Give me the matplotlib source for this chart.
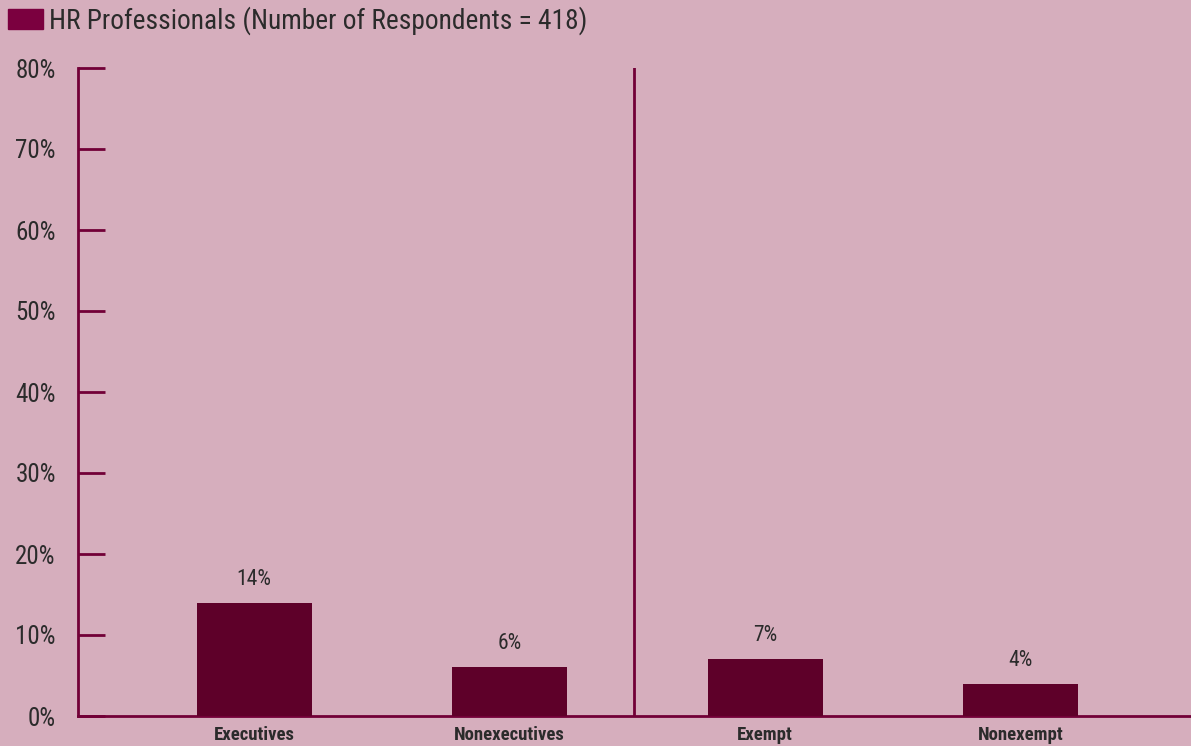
import matplotlib
matplotlib.use("Agg")
import matplotlib.pyplot as plt
from matplotlib.patches import Patch

categories = ["Executives", "Nonexecutives", "Exempt", "Nonexempt"]
values = [14, 6, 7, 4]
value_labels = ["14%", "6%", "7%", "4%"]
yticks = [0, 10, 20, 30, 40, 50, 60, 70, 80]
ytick_labels = ["0%", "10%", "20%", "30%", "40%", "50%", "60%", "70%", "80%"]
legend_label = "HR Professionals (Number of Respondents = 418)"

bg = "#d6aebd"
bar_color = "#5e0029"
legend_color = "#7b003f"
line_color = "#720037"
text_color = "#2b2b2b"
font = ["Roboto Condensed", "Roboto", "DejaVu Sans"]

fig = plt.figure(figsize=(11.91, 7.46), dpi=100, facecolor=bg)
ax = fig.add_axes([78/1191, 1-716/746, 1-78/1191, (716-68)/746])
ax.set_facecolor(bg)

x = list(range(len(categories)))
ax.bar(x, values, width=0.45, color=bar_color, zorder=3)
for xi, v, lab in zip(x, values, value_labels):
    ax.text(xi, v + 1.6, lab, ha="center", va="bottom", fontsize=15.5,
            color=text_color, family=font)

ax.set_xlim(-0.689, 3.667)
ax.set_ylim(0, 80)
ax.axvline(1.487, color=line_color, lw=2, zorder=2)

for s in ["top", "right"]:
    ax.spines[s].set_visible(False)
for s in ["left", "bottom"]:
    ax.spines[s].set_color(line_color)
    ax.spines[s].set_linewidth(2)

ax.set_yticks(yticks)
ax.set_yticklabels(ytick_labels, family=font, fontsize=18, color=text_color)
ax.tick_params(axis="y", direction="in", length=19.4, width=2, color=line_color, pad=16)
ax.set_xticks(x)
ax.set_xticklabels(categories, family=font, fontsize=13.5, fontweight="bold", color=text_color)
ax.tick_params(axis="x", length=0, pad=7)

fig.legend(handles=[Patch(facecolor=legend_color, edgecolor=legend_color)], labels=[legend_label],
           loc="upper left", bbox_to_anchor=(0.0, 1.003), frameon=False,
           prop={"family": font, "size": 19.7}, labelcolor=text_color,
           handlelength=1.28, handleheight=0.78, handletextpad=0.2,
           borderaxespad=0.0, borderpad=0.3)

fig.savefig("out.png", dpi=100, facecolor=bg)
